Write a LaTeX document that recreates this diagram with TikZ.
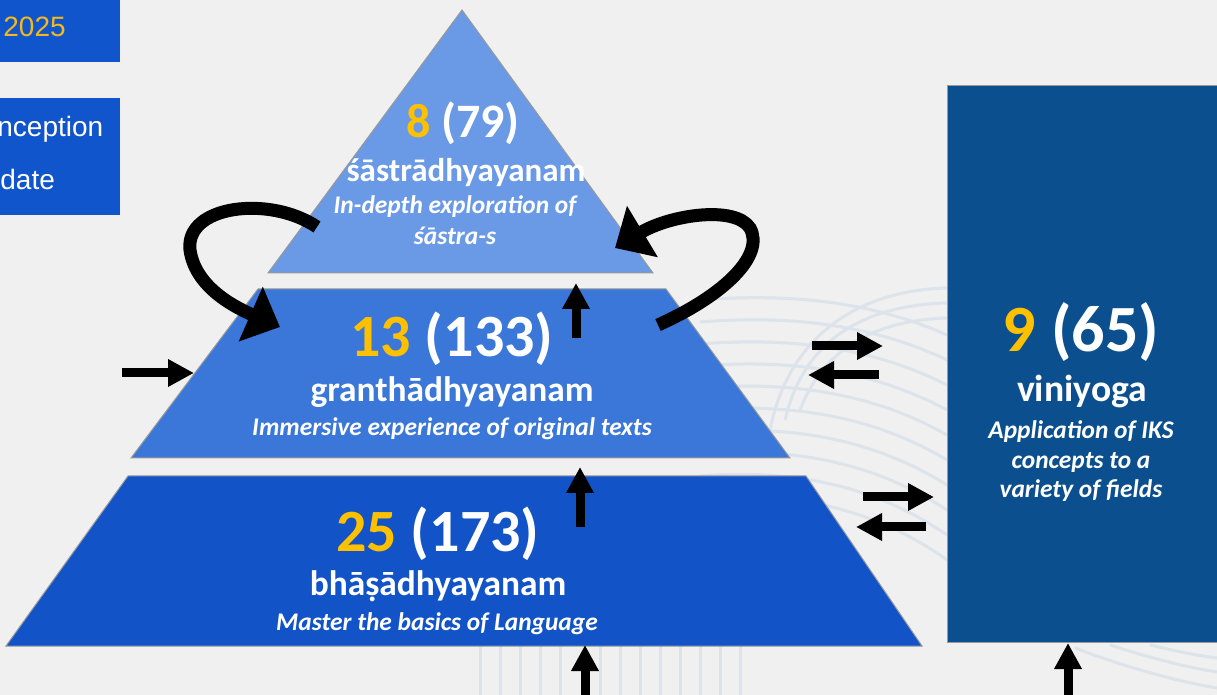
\documentclass[tikz,border=0pt]{standalone}
\usepackage{fontspec}
\setmainfont{Carlito}
\newfontfamily\tagfont{Liberation Sans}
\usetikzlibrary{arrows.meta}
\definecolor{pagebg}{HTML}{F0F0F0}
\definecolor{faintline}{HTML}{DCE3EB}
\definecolor{tagblue}{HTML}{1155CC}
\definecolor{tagyellow}{HTML}{F2B81E}
\definecolor{topblue}{HTML}{6A9AE6}
\definecolor{midblue}{HTML}{3A77D9}
\definecolor{lowblue}{HTML}{1254C8}
\definecolor{sideblue}{HTML}{0B4F8E}
\definecolor{countgold}{HTML}{FFC000}
\begin{document}
\begin{tikzpicture}[x=0.5pt, y=-0.5pt,
  tier/.style={draw=gray!80, line width=0.5pt},
  countlbl/.style={text=white, inner sep=0, anchor=base, font=\bfseries\fontsize{30}{36}\selectfont},
  namelbl/.style={text=white, inner sep=0, anchor=base, font=\bfseries\fontsize{17.7}{21}\selectfont},
  glosslbl/.style={text=white, inner sep=0, anchor=base, font=\bfseries\itshape\fontsize{12.7}{15}\selectfont},
  tagtxt/.style={text=white, inner sep=0, anchor=base west, font=\tagfont\fontsize{14}{17}\selectfont},
  faint/.style={draw=faintline, line width=1.5pt},
  flowarrow/.style={-{Triangle[length=13pt, width=13pt]}, line width=4.5pt},
  looparrow/.style={-{Triangle[length=16pt, width=29pt]}, line width=6.5pt}]
\clip (0,0) rectangle (1217,695);
\fill[pagebg] (0,0) rectangle (1217,695);
\draw[faint] (700,300) .. controls (800,292) and (880,305) .. (947,335);
\draw[faint] (700,322) .. controls (800,314) and (880,328) .. (947,360);
\draw[faint] (700,344) .. controls (800,336) and (880,351) .. (947,385);
\draw[faint] (700,366) .. controls (800,358) and (880,374) .. (947,410);
\draw[faint] (700,388) .. controls (800,380) and (880,397) .. (947,435);
\draw[faint] (700,410) .. controls (800,402) and (880,420) .. (947,460);
\draw[faint] (700,432) .. controls (800,424) and (880,443) .. (947,485);
\draw[faint] (700,454) .. controls (800,446) and (880,466) .. (947,510);
\draw[faint] (700,476) .. controls (800,468) and (880,489) .. (947,535);
\draw[faint] (700,498) .. controls (800,490) and (880,512) .. (947,560);
\draw[faint] (785,420) .. controls (805,335) and (870,305) .. (947,303);
\draw[faint] (770,430) .. controls (790,330) and (865,290) .. (947,288);
\draw[faint] (800,410) .. controls (825,345) and (880,320) .. (947,318);
\draw[faint] (1075,648) .. controls (1120,665) and (1170,680) .. (1217,688);
\draw[faint] (1110,645) .. controls (1150,658) and (1190,668) .. (1217,672);
\draw[faint] (1150,645) .. controls (1180,652) and (1200,656) .. (1217,658);
\draw[faint] (480,646) -- (480,695) (500,646) -- (500,695) (520,646) -- (520,695)
  (540,646) -- (540,695) (560,646) -- (560,695) (600,646) -- (600,695)
  (620,646) -- (620,695) (640,646) -- (640,695) (660,646) -- (660,695)
  (680,646) -- (680,695) (700,646) -- (700,695) (720,646) -- (720,695)
  (740,646) -- (740,695);
\fill[tagblue] (0,0) rectangle (120,62);
\fill[tagblue] (0,98) rectangle (120,215);
\node[tagtxt, text=tagyellow] (year) at (3,37) {2025};
\node[tagtxt] (tagA) at (-3,137) {nception};
\node[tagtxt] (tagB) at (0,190) {date};
\draw[tier, fill=topblue] (462,10) -- (653,273) -- (268,273) -- cycle;
\draw[tier, fill=midblue] (258,289) -- (666,289) -- (790,458) -- (131,458) -- cycle;
\draw[tier, fill=lowblue] (128,476) -- (806,476) -- (922,646) -- (6,646) -- cycle;
\draw[tier, fill=sideblue] (947,86) rectangle (1230,642);
\node[countlbl, font=\bfseries\fontsize{24}{29}\selectfont] (n8) at (463,138) {\textcolor{countgold}{8} (79)};
\node[namelbl, font=\bfseries\fontsize{16.5}{20}\selectfont] (sastra) at (466,182) {śāstrādhyayanam};
\node[glosslbl] (sastraA) at (455,214) {In-depth exploration of};
\node[glosslbl] (sastraB) at (455,245) {śāstra-s};
\node[countlbl] (n13) at (452,357) {\textcolor{countgold}{13} (133)};
\node[namelbl] (grantha) at (452,402) {granthādhyayanam};
\node[glosslbl] (granthaA) at (452,436) {Immersive experience of original texts};
\node[countlbl] (n25) at (438,552) {\textcolor{countgold}{25} (173)};
\node[namelbl] (bhasa) at (438,596) {bhāṣādhyayanam};
\node[glosslbl] (bhasaA) at (437,631) {Master the basics of Language};
\node[countlbl, font=\bfseries\fontsize{33}{40}\selectfont] (n9) at (1081,352) {\textcolor{countgold}{9} (65)};
\node[namelbl, font=\bfseries\fontsize{18.8}{23}\selectfont] (viniyoga) at (1082,402) {viniyoga};
\node[glosslbl] (vinA) at (1081,439) {Application of IKS};
\node[glosslbl] (vinB) at (1081,469) {concepts to a};
\node[glosslbl] (vinC) at (1081,498) {variety of fields};
\coordinate (inL) at (122,373);
\coordinate (inR) at (194,373);
\coordinate (upA1) at (576,338);
\coordinate (upA2) at (576,283);
\coordinate (upB1) at (580,527);
\coordinate (upB2) at (580,467);
\coordinate (upC1) at (585,700);
\coordinate (upC2) at (585,645);
\coordinate (upD1) at (1068,700);
\coordinate (upD2) at (1068,643);
\coordinate (p1a) at (812,346);
\coordinate (p1b) at (883,346);
\coordinate (p1c) at (879,375);
\coordinate (p1d) at (808,375);
\coordinate (p2a) at (863,497);
\coordinate (p2b) at (934,497);
\coordinate (p2c) at (926,527);
\coordinate (p2d) at (856,527);
\coordinate (swL1) at (317,227);
\coordinate (swL2) at (280,327);
\coordinate (swR1) at (658,325);
\coordinate (swR2) at (615,248);
\draw[flowarrow] (inL) -- (inR);
\draw[flowarrow] (upA1) -- (upA2);
\draw[flowarrow] (upB1) -- (upB2);
\draw[flowarrow] (upC1) -- (upC2);
\draw[flowarrow] (upD1) -- (upD2);
\draw[flowarrow] (p1a) -- (p1b);
\draw[flowarrow] (p1c) -- (p1d);
\draw[flowarrow] (p2a) -- (p2b);
\draw[flowarrow] (p2c) -- (p2d);
\draw[looparrow] (swL1) .. controls (270,195) and (185,205) .. (190,250) .. controls (195,285) and (230,305) .. (swL2);
\draw[looparrow] (swR1) .. controls (725,295) and (765,255) .. (750,228) .. controls (735,205) and (670,215) .. (swR2);
\end{tikzpicture}
\end{document}
